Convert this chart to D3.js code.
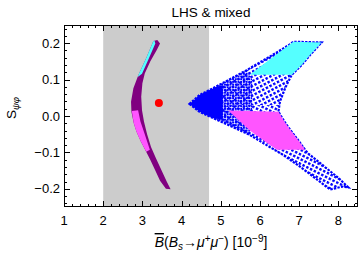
<!DOCTYPE HTML>
<html lang="en">
    <head>
        <meta charset="utf-8" />
        <title>LHS & mixed</title>
        <style>
            body { margin: 0; background: #fff; }
            text { font-family: "Liberation Sans", Arial, sans-serif; }
        </style>
    </head>
    <body>
        <div id="chart"></div>
        <script type="text/javascript" src="https://d3js.org/d3.v7.min.js"></script>
        <script>
            // axis ticks
            const xTicks = [1, 2, 3, 4, 5, 6, 7, 8];
            const yTicks = [-0.2, -0.1, 0.0, 0.1, 0.2];

            // experimental band on B(Bs -> mu mu) and SM point
            const band = [2.0, 4.7];
            const smPoint = [3.42, 0.036];

            // purple arc (left edge top->bottom, then right edge bottom->top)
            const arcPurple = [
                [3.28, 0.206], [3.10, 0.160], [2.90, 0.113], [2.77, 0.076], [2.71, 0.039],
                [2.72, 0.012], [2.78, -0.020], [2.85, -0.043], [2.96, -0.070], [3.07, -0.093],
                [3.20, -0.120], [3.32, -0.148], [3.45, -0.178], [3.60, -0.200], [3.72, -0.201],
                [3.62, -0.180], [3.49, -0.150], [3.34, -0.115], [3.22, -0.085], [3.12, -0.050],
                [3.04, -0.015], [2.99, 0.016], [2.97, 0.053], [3.00, 0.090], [3.06, 0.117],
                [3.20, 0.150], [3.37, 0.182], [3.45, 0.199], [3.38, 0.209]
            ];
            const arcCyan = [
                [3.28, 0.206], [3.10, 0.160], [2.90, 0.113], [2.88, 0.107], [2.99, 0.116],
                [3.13, 0.150], [3.33, 0.199], [3.31, 0.207]
            ];
            const arcMagenta = [
                [2.73, 0.014], [2.78, -0.020], [2.85, -0.043], [2.96, -0.070], [3.10, -0.098],
                [3.19, -0.093], [3.06, -0.050], [2.95, -0.015], [2.89, 0.016]
            ];

            // blue chevron
            const blueRegion = [
                [4.20, 0.033], [4.45, 0.057], [4.81, 0.077], [5.20, 0.099], [5.66, 0.126],
                [6.20, 0.160], [6.77, 0.197], [6.85, 0.204], [7.57, 0.202], [7.28, 0.168],
                [7.06, 0.140], [6.81, 0.113], [6.70, 0.090], [6.64, 0.076], [6.51, 0.040],
                [6.47, 0.012], [6.62, -0.015], [6.77, -0.038], [7.00, -0.070], [7.15, -0.093],
                [7.23, -0.103], [7.70, -0.144], [8.00, -0.170], [8.25, -0.196], [8.10, -0.194],
                [7.79, -0.202], [7.02, -0.139], [6.59, -0.107], [6.17, -0.080], [5.74, -0.052],
                [5.20, -0.025], [4.81, -0.006], [4.45, 0.012]
            ];
            const blueDense = [
                [4.20, 0.033], [4.45, 0.057], [4.81, 0.077], [5.20, 0.099], [5.66, 0.126],
                [5.80, 0.100], [5.80, -0.020], [5.74, -0.052], [5.20, -0.025], [4.81, -0.006],
                [4.45, 0.012]
            ];
            const blueCore = [
                [4.20, 0.033], [4.45, 0.057], [4.81, 0.077], [5.05, 0.085], [5.05, -0.010],
                [4.81, -0.006], [4.45, 0.012]
            ];
            const cyanRegion = [
                [5.74, 0.113], [6.00, 0.135], [6.85, 0.204], [7.57, 0.202], [7.28, 0.168],
                [7.06, 0.140], [6.81, 0.113]
            ];
            const magentaRegion = [
                [5.19, 0.015], [6.47, 0.012], [6.62, -0.015], [6.77, -0.038], [7.00, -0.070],
                [7.15, -0.093], [6.43, -0.093], [6.10, -0.068], [5.74, -0.040]
            ];

            const width = 360, height = 257;
            const mLeft = 64, mRight = 358, mTop = 25, mBottom = 207;

            const x = d3.scaleLinear().domain([1, 8.5]).range([mLeft, mRight]);
            const y = d3.scaleLinear().domain([-0.25, 0.25]).range([mBottom, mTop]);

            const svg = d3.select("#chart")
                .append("svg")
                .attr("width", width)
                .attr("height", height);

            const defs = svg.append("defs");
            defs.append("clipPath").attr("id", "plot")
                .append("rect")
                .attr("x", mLeft).attr("y", mTop)
                .attr("width", mRight - mLeft).attr("height", mBottom - mTop);

            function dotPattern(id, step, size, angle) {
                const p = defs.append("pattern")
                    .attr("id", id)
                    .attr("patternUnits", "userSpaceOnUse")
                    .attr("width", step).attr("height", step)
                    .attr("patternTransform", `rotate(${angle})`);
                p.append("rect")
                    .attr("width", size).attr("height", size)
                    .attr("fill", "#0000ff");
            }
            dotPattern("sparseUp", 4.2, 2.4, -28);
            dotPattern("sparseDown", 4.2, 2.4, 27);
            dotPattern("dense", 2.7, 2.0, 0);

            const line = d3.line().x(d => x(d[0])).y(d => y(d[1]));
            const poly = pts => line(pts) + "Z";

            const g = svg.append("g").attr("clip-path", "url(#plot)");

            g.append("rect")
                .attr("x", x(band[0]))
                .attr("y", mTop)
                .attr("width", x(band[1]) - x(band[0]))
                .attr("height", mBottom - mTop)
                .attr("fill", "#cccccc");

            // arc
            g.append("path").attr("d", poly(arcPurple)).attr("fill", "#800080");
            g.append("path").attr("d", poly(arcCyan)).attr("fill", "#55ffff");
            g.append("path").attr("d", poly(arcMagenta)).attr("fill", "#ff55ff");

            // blue chevron: clip to region, fill with dot grids
            defs.append("clipPath").attr("id", "blueClip")
                .append("path").attr("d", poly(blueRegion));

            const split = y(smPoint[1] - 0.006);
            const bc = g.append("g").attr("clip-path", "url(#blueClip)");
            bc.append("rect")
                .attr("x", x(4)).attr("y", mTop)
                .attr("width", x(8.5) - x(4)).attr("height", split - mTop)
                .attr("fill", "url(#sparseUp)");
            bc.append("rect")
                .attr("x", x(4)).attr("y", split)
                .attr("width", x(8.5) - x(4)).attr("height", mBottom - split)
                .attr("fill", "url(#sparseDown)");
            bc.append("path").attr("d", poly(blueDense)).attr("fill", "url(#dense)");
            bc.append("path").attr("d", poly(blueCore)).attr("fill", "#0000ff");

            g.append("path")
                .attr("d", poly(blueRegion))
                .attr("fill", "none")
                .attr("stroke", "#0000ff")
                .attr("stroke-width", 2.2)
                .attr("stroke-dasharray", "2.4,1.2");

            g.append("path").attr("d", poly(cyanRegion)).attr("fill", "#55ffff");
            g.append("path").attr("d", poly(magentaRegion)).attr("fill", "#ff55ff");

            g.append("circle")
                .attr("cx", x(smPoint[0]))
                .attr("cy", y(smPoint[1]))
                .attr("r", 4)
                .attr("fill", "#ff0000");

            // frame and ticks
            svg.append("rect")
                .attr("x", mLeft + 0.5).attr("y", mTop + 0.5)
                .attr("width", mRight - mLeft - 1).attr("height", mBottom - mTop - 1)
                .attr("fill", "none").attr("stroke", "#000").attr("stroke-width", 1);

            const xMinor = d3.range(1, 8.5001, 0.2);
            const yMinor = d3.range(-0.24, 0.2401, 0.02);
            const ticks = svg.append("g").attr("stroke", "#000").attr("stroke-width", 1);
            const isMajorX = v => Math.abs(v - Math.round(v)) < 1e-6;
            const isMajorY = v => Math.abs(v * 10 - Math.round(v * 10)) < 1e-6;

            xMinor.forEach(v => {
                const len = isMajorX(v) ? 6 : 3;
                const px = Math.round(x(v)) + 0.5;
                ticks.append("line").attr("x1", px).attr("x2", px).attr("y1", mBottom).attr("y2", mBottom - len);
                ticks.append("line").attr("x1", px).attr("x2", px).attr("y1", mTop).attr("y2", mTop + len);
            });
            yMinor.forEach(v => {
                const len = isMajorY(v) ? 6 : 3;
                const py = Math.round(y(v)) + 0.5;
                ticks.append("line").attr("y1", py).attr("y2", py).attr("x1", mLeft).attr("x2", mLeft + len);
                ticks.append("line").attr("y1", py).attr("y2", py).attr("x1", mRight).attr("x2", mRight - len);
            });

            svg.append("g").selectAll("text")
                .data(xTicks)
                .enter()
                .append("text")
                .attr("x", d => x(d))
                .attr("y", 225)
                .attr("text-anchor", "middle")
                .attr("font-size", 13)
                .text(d => d);

            svg.append("g").selectAll("text")
                .data(yTicks)
                .enter()
                .append("text")
                .attr("x", 60)
                .attr("y", d => y(d) + 4.5)
                .attr("text-anchor", "end")
                .attr("font-size", 13)
                .text(d => d3.format(".1f")(d).replace("-", "\u2212"));

            // title
            svg.append("text")
                .attr("x", (mLeft + mRight) / 2)
                .attr("y", 17)
                .attr("text-anchor", "middle")
                .attr("font-size", 13.5)
                .text("LHS & mixed");

            // x label
            const xl = svg.append("text")
                .attr("x", 211)
                .attr("y", 247)
                .attr("text-anchor", "middle")
                .attr("font-size", 14);
            xl.append("tspan").attr("font-style", "italic").style("text-decoration", "overline").text("B");
            xl.append("tspan").text("(");
            xl.append("tspan").attr("font-style", "italic").text("B");
            xl.append("tspan").attr("font-style", "italic").attr("font-size", 10).attr("dy", 3).text("s");
            xl.append("tspan").attr("dy", -3).text("\u2192");
            xl.append("tspan").attr("font-style", "italic").text("\u03bc");
            xl.append("tspan").attr("font-size", 10).attr("dy", -5).text("+");
            xl.append("tspan").attr("font-style", "italic").attr("dy", 5).text("\u03bc");
            xl.append("tspan").attr("font-size", 10).attr("dy", -5).text("\u2212");
            xl.append("tspan").attr("dy", 5).text(")  [10");
            xl.append("tspan").attr("font-size", 10).attr("dy", -5).text("\u22129");
            xl.append("tspan").attr("dy", 5).text("]");

            // y label
            const yl = svg.append("text")
                .attr("transform", "translate(16,108) rotate(-90)")
                .attr("text-anchor", "middle")
                .attr("font-size", 13.5);
            yl.append("tspan").text("S");
            yl.append("tspan").attr("font-style", "italic").attr("font-size", 9.5).attr("dy", 3).text("\u03c8\u03c6");
        </script>
    </body>
</html>
